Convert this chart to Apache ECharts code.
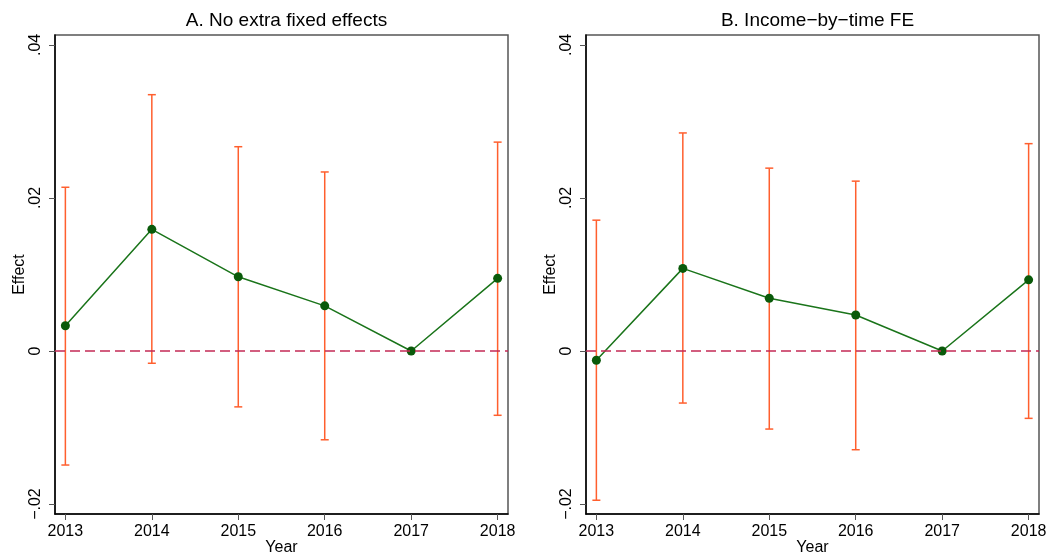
<!DOCTYPE html>
<html><head><meta charset="utf-8">
<script src="https://cdn.jsdelivr.net/npm/echarts@6/dist/echarts.min.js"></script>
<style>html,body{margin:0;padding:0;background:#fff}#c{width:1051px;height:558px}</style>
</head><body><div id="c"></div>
<script>
const years = [2013, 2014, 2015, 2016, 2017, 2018];
const effectA = [0.0033, 0.0159, 0.0097, 0.0059, 0, 0.0095];
const lowerA  = [-0.0149, -0.0016, -0.0073, -0.0116, 0, -0.0084];
const upperA  = [0.0214, 0.0335, 0.0267, 0.0234, 0, 0.0273];
const effectB = [-0.0012, 0.0108, 0.0069, 0.0047, 0, 0.0093];
const lowerB  = [-0.0195, -0.0068, -0.0102, -0.0129, 0, -0.0088];
const upperB  = [0.0171, 0.0285, 0.0239, 0.0222, 0, 0.0271];
const yTicks = [-0.02, 0, 0.02, 0.04];
const yTickLabels = ['\u2212.02', '0', '.02', '.04'];
const titles = ['A. No extra fixed effects', 'B. Income\u2212by\u2212time FE'];

const FONT = 'Liberation Sans, Arial, Helvetica, sans-serif';
const ORANGE = '#ff5f2e', GREEN = '#1a741a', DOT = '#0a5a0a', DASH = '#c42a55';

function xAxis(i) {
  return {
    type: 'value', gridIndex: i, min: 2012.88, max: 2018.12,
    name: 'Year', nameLocation: 'middle', nameGap: 26, nameMoveOverlap: false,
    nameTextStyle: {fontFamily: FONT, fontSize: 16, color: '#000'},
    axisLine: {show: true, onZero: false, lineStyle: {color: '#000', width: 1.5}},
    axisTick: {show: true, length: 6, lineStyle: {color: '#555'}, customValues: years},
    axisLabel: {show: true, margin: 10, fontFamily: FONT, fontSize: 16, color: '#000',
      customValues: years, formatter: v => String(Math.round(v))},
    splitLine: {show: false}
  };
}
function yAxis(i) {
  return {
    type: 'value', gridIndex: i, min: -0.0213, max: 0.0413,
    name: 'Effect', nameLocation: 'middle', nameGap: 27, nameRotate: 90, nameMoveOverlap: false,
    nameTextStyle: {fontFamily: FONT, fontSize: 16, color: '#000'},
    axisLine: {show: true, onZero: false, lineStyle: {color: '#000', width: 1.5}},
    axisTick: {show: true, length: 6, lineStyle: {color: '#555'}, customValues: yTicks},
    axisLabel: {show: true, rotate: 90, margin: 11, fontFamily: FONT, fontSize: 16, color: '#000',
      customValues: yTicks,
      formatter: v => { const k = yTicks.findIndex(t => Math.abs(t - v) < 1e-9); return k >= 0 ? yTickLabels[k] : ''; }},
    splitLine: {show: false}
  };
}
function errSeries(i, lo, hi) {
  return {
    type: 'custom', xAxisIndex: i, yAxisIndex: i, z: 3,
    data: years.map((y, k) => [y, lo[k], hi[k]]),
    renderItem: (params, api) => {
      const x = api.value(0);
      const p1 = api.coord([x, api.value(1)]);
      const p2 = api.coord([x, api.value(2)]);
      const w = 4;
      const st = {stroke: ORANGE, lineWidth: 1.5};
      return {type: 'group', children: [
        {type: 'line', shape: {x1: p1[0], y1: p1[1], x2: p2[0], y2: p2[1]}, style: st},
        {type: 'line', shape: {x1: p1[0] - w, y1: p1[1], x2: p1[0] + w, y2: p1[1]}, style: st},
        {type: 'line', shape: {x1: p2[0] - w, y1: p2[1], x2: p2[0] + w, y2: p2[1]}, style: st}
      ]};
    }
  };
}
function lineSeries(i, eff) {
  return {
    type: 'line', xAxisIndex: i, yAxisIndex: i, z: 4,
    data: years.map((y, k) => [y, eff[k]]),
    symbol: 'circle', symbolSize: 9,
    itemStyle: {color: DOT},
    lineStyle: {color: GREEN, width: 1.5},
    markLine: {silent: true, symbol: 'none', label: {show: false},
      lineStyle: {color: DASH, type: [10, 5], width: 1.5},
      data: [{yAxis: 0}]},
    animation: false
  };
}

const chart = echarts.init(document.getElementById('c'), null, {renderer: 'canvas'});
chart.setOption({
  animation: false,
  backgroundColor: '#fff',
  title: [
    {text: titles[0], left: 281.5, top: 6, textAlign: 'center',
      textStyle: {fontFamily: FONT, fontSize: 19, fontWeight: 'normal', color: '#000'}},
    {text: titles[1], left: 812.5, top: 6, textAlign: 'center',
      textStyle: {fontFamily: FONT, fontSize: 19, fontWeight: 'normal', color: '#000'}}
  ],
  grid: [
    {left: 55, top: 35, width: 453, height: 479, outerBoundsMode: 'none', containLabel: false,
      show: true, borderColor: '#555', borderWidth: 1.5, backgroundColor: 'transparent'},
    {left: 586, top: 35, width: 453, height: 479, outerBoundsMode: 'none', containLabel: false,
      show: true, borderColor: '#555', borderWidth: 1.5, backgroundColor: 'transparent'}
  ],
  xAxis: [xAxis(0), xAxis(1)],
  yAxis: [yAxis(0), yAxis(1)],
  series: [
    errSeries(0, lowerA, upperA), lineSeries(0, effectA),
    errSeries(1, lowerB, upperB), lineSeries(1, effectB)
  ]
});
</script></body></html>
